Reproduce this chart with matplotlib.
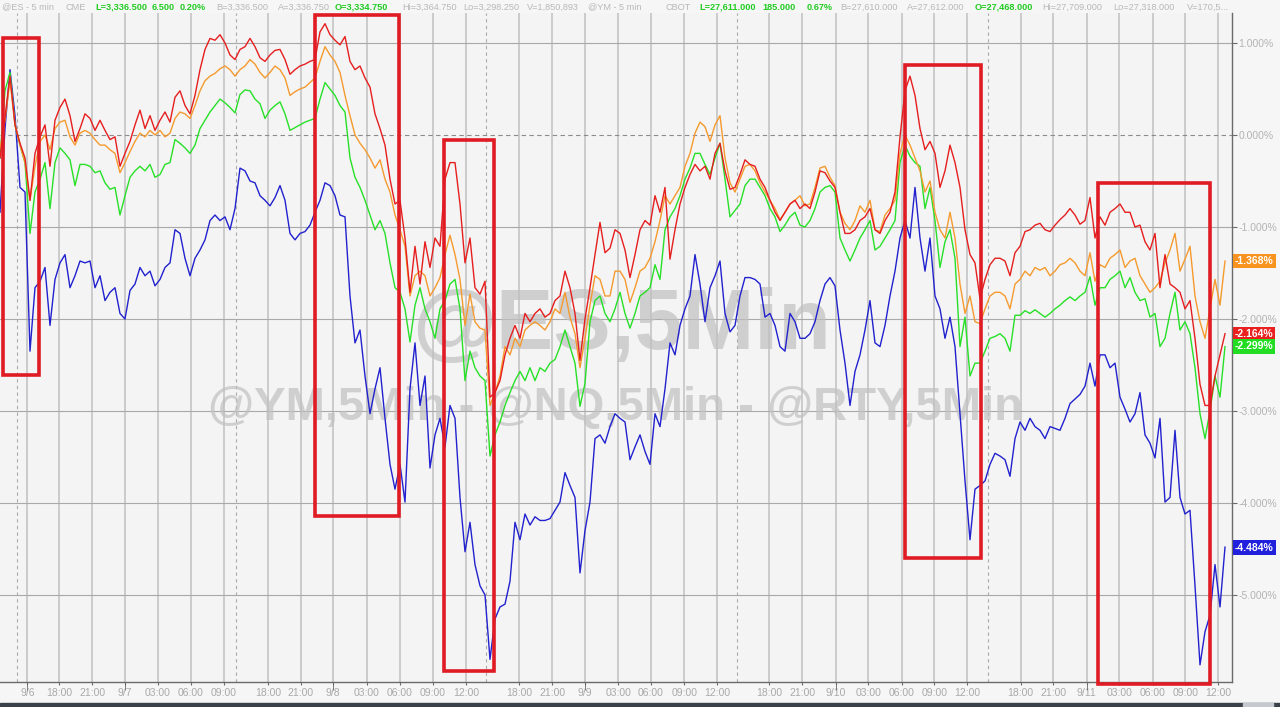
import numpy as np
import matplotlib
matplotlib.use('Agg')
import matplotlib.pyplot as plt
from matplotlib.patches import Rectangle

plt.rcParams['font.family'] = ['Liberation Sans', 'DejaVu Sans']

# % change, one value per 5-min slot (compressed session time)
es = [-0.25, 0.20, 0.64, 0.11, -0.09, -0.25, -0.71, -0.20, -0.02, 0.11,
      -0.34, 0.16, 0.30, 0.39, 0.21, -0.07, 0.07, 0.23, 0.18, 0.05,
      0.16, 0.05, -0.05, -0.02, -0.34, -0.20, -0.07, 0.11, 0.27, 0.07,
      0.21, 0.05, 0.16, 0.25, 0.14, 0.41, 0.48, 0.32, 0.23, 0.43,
      0.71, 0.93, 1.05, 1.03, 1.09, 1.00, 0.87, 0.82, 0.93, 0.96,
      1.05, 0.96, 0.84, 0.80, 0.87, 0.92, 0.93, 0.82, 0.66, 0.71,
      0.75, 0.77, 0.80, 0.82, 1.12, 1.21, 1.09, 1.03, 0.98, 1.07,
      0.80, 0.71, 0.75, 0.62, 0.52, 0.23, 0.07, -0.11, -0.48, -0.75,
      -0.71, -1.12, -1.71, -1.21, -1.62, -1.16, -1.44, -1.12, -1.21, -0.48,
      -0.30, -0.30, -0.75, -1.39, -1.12, -1.66, -1.73, -1.59, -2.85, -2.80,
      -2.67, -2.39, -2.21, -2.07, -2.21, -1.94, -2.03, -1.94, -1.89, -1.98,
      -1.94, -1.80, -1.75, -1.48, -1.66, -1.94, -2.45, -2.00, -1.66, -1.30,
      -0.95, -1.28, -1.23, -1.03, -1.07, -1.25, -1.55, -1.30, -1.03, -0.93,
      -0.98, -0.66, -0.84, -0.57, -1.35, -1.03, -0.75, -0.57, -0.43, -0.32,
      -0.39, -0.34, -0.48, -0.20, -0.09, -0.39, -0.59, -0.57, -0.43, -0.27,
      -0.32, -0.34, -0.48, -0.57, -0.71, -0.84, -0.93, -0.84, -0.75, -0.71,
      -0.80, -0.75, -0.80, -0.62, -0.39, -0.41, -0.50, -0.57, -0.84, -1.07,
      -1.07, -1.03, -0.93, -0.89, -0.80, -1.03, -1.07, -0.93, -0.84, -0.62,
      -0.02, 0.48, 0.64, 0.43, 0.07, -0.16, -0.07, -0.20, -0.57, -0.39,
      -0.11, -0.30, -0.57, -1.03, -1.30, -1.39, -1.78, -1.57, -1.41, -1.34,
      -1.34, -1.37, -1.53, -1.28, -1.21, -1.05, -1.03, -0.98, -0.96, -1.03,
      -1.05, -0.98, -0.92, -0.87, -0.80, -0.87, -0.97, -0.93, -0.68, -1.12,
      -0.89, -0.98, -0.84, -0.80, -0.75, -0.84, -0.84, -1.00, -0.98, -1.16,
      -1.25, -1.07, -1.66, -1.30, -1.62, -1.66, -1.71, -1.89, -1.80, -2.21,
      -2.71, -2.94, -2.94, -2.62, -2.39, -2.16]

ym = [-0.15, 0.16, 0.59, 0.11, -0.11, -0.30, -0.71, -0.34, -0.07, 0.00,
      -0.16, 0.07, 0.14, 0.16, -0.02, -0.11, 0.02, 0.05, 0.02, -0.05,
      -0.11, -0.11, -0.16, -0.20, -0.41, -0.30, -0.18, -0.07, 0.02, -0.02,
      0.05, 0.00, 0.05, -0.02, 0.02, 0.18, 0.25, 0.23, 0.18, 0.32,
      0.48, 0.59, 0.64, 0.67, 0.72, 0.75, 0.71, 0.64, 0.71, 0.75,
      0.82, 0.77, 0.68, 0.62, 0.68, 0.75, 0.71, 0.62, 0.43, 0.47,
      0.50, 0.52, 0.57, 0.62, 0.80, 0.96, 0.87, 0.80, 0.68, 0.43,
      0.21, 0.00, -0.09, -0.16, -0.25, -0.36, -0.27, -0.48, -0.62, -0.87,
      -1.03, -1.21, -1.75, -1.53, -1.48, -1.53, -1.75, -1.66, -1.55, -1.30,
      -1.09, -1.30, -1.57, -2.07, -1.73, -2.03, -2.10, -2.12, -2.94, -2.80,
      -2.62, -2.30, -2.39, -2.21, -2.30, -2.12, -2.07, -2.03, -2.07, -2.12,
      -2.03, -1.89, -1.94, -1.71, -1.98, -2.16, -2.53, -2.21, -1.85, -1.53,
      -1.57, -1.75, -1.75, -1.48, -1.48, -1.57, -1.82, -1.66, -1.48, -1.44,
      -1.34, -1.16, -0.93, -0.66, -0.75, -0.66, -0.57, -0.34, -0.20, 0.02,
      0.14, 0.09, -0.07, 0.11, 0.21, -0.25, -0.52, -0.62, -0.48, -0.34,
      -0.32, -0.39, -0.52, -0.62, -0.71, -0.80, -0.92, -0.84, -0.75, -0.71,
      -0.66, -0.77, -0.75, -0.57, -0.36, -0.34, -0.46, -0.55, -0.84, -0.96,
      -1.03, -0.93, -0.77, -0.84, -0.71, -1.03, -1.05, -0.87, -0.80, -0.71,
      -0.20, 0.00, -0.11, -0.25, -0.39, -0.62, -0.50, -0.84, -1.03, -1.12,
      -0.84, -1.12, -1.62, -1.94, -1.75, -2.03, -2.05, -1.89, -1.75, -1.71,
      -1.71, -1.75, -1.89, -1.62, -1.57, -1.48, -1.53, -1.44, -1.47, -1.44,
      -1.53, -1.48, -1.41, -1.39, -1.34, -1.39, -1.48, -1.53, -1.28, -1.59,
      -1.41, -1.44, -1.34, -1.30, -1.25, -1.44, -1.37, -1.34, -1.53, -1.62,
      -1.71, -1.66, -1.59, -1.39, -1.25, -1.07, -1.48, -1.35, -1.21, -1.75,
      -2.03, -2.21, -1.89, -1.57, -1.85, -1.37]

rty = [-0.25, 0.48, 0.68, 0.11, -0.11, -0.30, -1.07, -0.62, -0.48, -0.30,
       -0.80, -0.30, -0.14, -0.20, -0.27, -0.55, -0.32, -0.32, -0.34, -0.41,
       -0.39, -0.52, -0.59, -0.57, -0.87, -0.66, -0.46, -0.39, -0.34, -0.39,
       -0.32, -0.46, -0.43, -0.32, -0.30, -0.05, -0.09, -0.14, -0.20, -0.11,
       0.07, 0.16, 0.25, 0.32, 0.39, 0.35, 0.30, 0.24, 0.44, 0.49,
       0.48, 0.39, 0.34, 0.18, 0.27, 0.32, 0.36, 0.23, 0.05, 0.08,
       0.11, 0.14, 0.16, 0.18, 0.39, 0.57, 0.50, 0.43, 0.32, 0.25,
       -0.25, -0.46, -0.57, -0.71, -0.87, -1.03, -0.93, -1.07, -1.39, -1.66,
       -1.71, -1.89, -2.25, -1.85, -1.66, -1.89, -2.03, -2.21, -1.89, -1.80,
       -1.62, -1.57, -1.89, -2.67, -2.35, -2.53, -2.62, -2.67, -3.49, -3.26,
       -3.12, -2.94, -2.80, -2.67, -2.57, -2.67, -2.53, -2.67, -2.53, -2.57,
       -2.48, -2.44, -2.30, -2.12, -2.30, -2.48, -2.95, -2.70, -2.03, -1.80,
       -1.75, -1.94, -2.03, -1.89, -1.71, -1.94, -2.10, -1.94, -1.75, -1.71,
       -1.66, -1.41, -1.57, -1.03, -0.89, -0.80, -0.66, -0.48, -0.36, -0.20,
       -0.20, -0.32, -0.43, -0.25, -0.09, -0.48, -0.89, -0.82, -0.75, -0.55,
       -0.48, -0.48, -0.57, -0.66, -0.80, -0.89, -1.05, -0.98, -0.89, -0.84,
       -0.98, -1.00, -0.93, -0.80, -0.62, -0.57, -0.55, -0.62, -1.12, -1.25,
       -1.37, -1.25, -1.12, -1.03, -0.93, -1.25, -1.21, -1.12, -1.03, -0.93,
       -0.30, -0.11, -0.23, -0.30, -0.34, -0.80, -0.57, -0.93, -1.44, -1.16,
       -1.03, -1.34, -2.30, -1.98, -2.62, -2.48, -2.48, -2.35, -2.21, -2.19,
       -2.16, -2.21, -2.35, -1.96, -1.96, -1.91, -1.94, -1.90, -1.94, -1.98,
       -1.94, -1.89, -1.85, -1.80, -1.76, -1.80, -1.75, -1.71, -1.54, -1.85,
       -1.66, -1.66, -1.57, -1.53, -1.48, -1.66, -1.55, -1.71, -1.80, -1.78,
       -1.98, -1.94, -2.30, -2.21, -1.94, -1.71, -2.12, -2.03, -2.16, -2.53,
       -3.03, -3.30, -3.00, -2.62, -2.85, -2.30]

nq = [-0.84, 0.07, 0.71, 0.21, -0.57, -0.62, -2.35, -1.66, -1.59, -1.44,
      -2.07, -1.57, -1.39, -1.30, -1.66, -1.53, -1.37, -1.39, -1.37, -1.66,
      -1.53, -1.80, -1.71, -1.66, -1.94, -2.00, -1.69, -1.62, -1.44, -1.53,
      -1.48, -1.64, -1.57, -1.44, -1.39, -1.03, -1.07, -1.34, -1.53, -1.34,
      -1.25, -1.14, -0.93, -0.87, -0.93, -0.89, -1.03, -0.80, -0.36, -0.39,
      -0.50, -0.52, -0.66, -0.71, -0.77, -0.68, -0.55, -0.71, -1.07, -1.14,
      -1.07, -1.05, -0.98, -0.84, -0.71, -0.52, -0.55, -0.66, -0.87, -0.89,
      -1.75, -2.26, -2.12, -2.62, -3.03, -2.76, -2.53, -3.08, -3.58, -3.85,
      -3.58, -3.99, -2.76, -2.26, -2.94, -2.62, -3.62, -3.26, -3.08, -3.39,
      -2.94, -3.08, -3.94, -4.53, -4.21, -4.67, -4.90, -5.00, -5.70, -5.26,
      -5.13, -5.10, -4.85, -4.21, -4.40, -4.12, -4.24, -4.15, -4.19, -4.19,
      -4.17, -4.08, -3.99, -3.67, -3.81, -3.94, -4.76, -4.30, -3.99, -3.30,
      -3.26, -3.35, -3.17, -3.03, -3.08, -3.12, -3.53, -3.39, -3.26, -3.44,
      -3.58, -3.03, -3.17, -2.76, -2.26, -2.39, -2.07, -1.89, -1.75, -1.30,
      -1.62, -2.03, -1.66, -1.53, -1.37, -1.94, -2.14, -2.07, -1.75, -1.55,
      -1.55, -1.57, -1.62, -1.98, -1.94, -2.07, -2.30, -2.35, -1.94, -2.03,
      -2.21, -2.21, -2.16, -2.03, -1.80, -1.62, -1.55, -1.64, -2.12, -2.48,
      -2.94, -2.57, -2.39, -2.12, -1.80, -2.26, -2.30, -2.07, -1.75, -1.48,
      -1.12, -0.93, -1.12, -0.57, -1.12, -1.48, -1.12, -1.75, -1.89, -2.21,
      -1.98, -2.30, -3.03, -3.76, -4.40, -3.85, -3.81, -3.76, -3.58, -3.46,
      -3.49, -3.53, -3.71, -3.30, -3.12, -3.21, -3.08, -3.17, -3.21, -3.30,
      -3.17, -3.19, -3.21, -3.08, -2.92, -2.87, -2.82, -2.73, -2.48, -2.73,
      -2.39, -2.39, -2.53, -2.48, -2.85, -2.98, -3.12, -3.03, -2.80, -3.26,
      -3.35, -3.51, -3.08, -3.99, -3.94, -3.21, -3.94, -4.12, -4.08, -4.90,
      -5.76, -5.40, -5.22, -4.67, -5.13, -4.48]

last_values = [-1.368, -2.164, -2.299, -4.484]

tick_labels = ['9/6', '18:00', '21:00', '9/7', '03:00', '06:00', '09:00',
               '18:00', '21:00', '9/8', '03:00', '06:00', '09:00', '12:00',
               '18:00', '21:00', '9/9', '03:00', '06:00', '09:00', '12:00',
               '18:00', '21:00', '9/10', '03:00', '06:00', '09:00', '12:00',
               '18:00', '21:00', '9/11', '03:00', '06:00', '09:00', '12:00']
tick_pos = [5.46, 11.86, 18.46, 25.0, 31.54, 38.14, 44.8,
            53.6, 60.14, 66.6, 73.34, 80.0, 86.54, 93.2,
            103.8, 110.46, 117.0, 123.66, 130.2, 136.86, 143.46,
            153.86, 160.46, 167.14, 173.66, 180.34, 186.86, 193.46,
            204.14, 210.66, 217.34, 223.86, 230.54, 237.06, 243.66]
day_pos = [5.46, 25.0, 66.6, 117.0, 167.14, 217.34]
session_pos = [3.5, 47.2, 97.3, 147.5, 197.6]

# highlighted sell-off windows (slot index, %)
box_x0 = [0.6, 63.0, 88.8, 181.0, 219.6]
box_x1 = [7.8, 79.8, 98.8, 196.2, 242.0]
box_y0 = [-2.61, -4.14, -5.83, -4.60, -5.97]
box_y1 = [1.05, 1.30, -0.05, 0.76, -0.52]

header = [("@ES - 5 min", 2, 'g'), ("CME", 65, 'g'), ("L=3,336.500", 95, 'G'),
          ("6.500", 152, 'G'), ("0.20%", 180, 'G'), ("B=3,336.500", 216, 'g'),
          ("A=3,336.750", 278, 'g'), ("O=3,334.750", 335, 'G'),
          ("Hi=3,364.750", 402, 'g'), ("Lo=3,298.250", 463, 'g'),
          ("V=1,850,893", 527, 'g'), ("@YM - 5 min", 588, 'g'), ("CBOT", 666, 'g'),
          ("L=27,611.000", 699, 'G'), ("185.000", 762, 'G'), ("0.67%", 807, 'G'),
          ("B=27,610.000", 840, 'g'), ("A=27,612.000", 907, 'g'),
          ("O=27,468.000", 975, 'G'), ("Hi=27,709.000", 1042, 'g'),
          ("Lo=27,318.000", 1113, 'g'), ("V=170,5...", 1187, 'g')]

W, H = 1280, 707
fig = plt.figure(figsize=(12.8, 7.07), dpi=100, facecolor='#f6f6f6')
ax = fig.add_axes([0, 25 / H, 1232 / W, 669 / H], facecolor='#f4f4f4')

x = np.arange(len(es))
ax.set_xlim(0, 246.4)
ax.set_ylim(-5.946, 1.326)

for p in tick_pos:
    ax.axvline(p, color='#c8c8c8', lw=1.3, zorder=0)
for p in session_pos:
    ax.axvline(p, color='#ababab', lw=0.8, ls=(0, (3, 3)), zorder=0)
for v in [1, -1, -2, -3, -4, -5]:
    ax.axhline(v, color='#a9a9a9', lw=0.8, zorder=0.5)
ax.axhline(0, color='#8c8c8c', lw=0.8, ls=(0, (4, 3)), zorder=0.5)

# watermarks
ax.text(622 / W, 1 - 349 / H, "@ES,5Min", transform=fig.transFigure,
        ha='center', va='baseline', fontsize=62, fontweight='bold',
        color='#c0c0c0', alpha=0.7, zorder=1)
ax.text(615 / W, 1 - 420 / H, "@YM,5Min - @NQ,5Min - @RTY,5Min",
        transform=fig.transFigure, ha='center', va='baseline', fontsize=34,
        fontweight='bold', color='#c0c0c0', alpha=0.7, zorder=1)

ax.plot(x, nq, color='#2121cf', lw=1.0, zorder=3)
ax.plot(x, rty, color='#27e027', lw=1.0, zorder=3)
ax.plot(x, ym, color='#f59a2e', lw=1.0, zorder=3)
ax.plot(x, es, color='#e61e1e', lw=1.0, zorder=3)

for x0, x1, y0, y1 in zip(box_x0, box_x1, box_y0, box_y1):
    ax.add_patch(Rectangle((x0, y0), x1 - x0, y1 - y0, fill=False,
                           ec='#e01b24', lw=2.6, zorder=5, clip_on=False))

# axes styling
for s in ['left', 'top']:
    ax.spines[s].set_visible(False)
for s in ['right', 'bottom']:
    ax.spines[s].set_color('#6a6a6a')
    ax.spines[s].set_linewidth(1.0)

ax.yaxis.tick_right()
yt = [1, 0, -1, -2, -3, -4, -5]
ax.set_yticks(yt)
ax.set_yticklabels([f'{v:.3f}%' for v in yt])
ax.tick_params(axis='y', length=3.5, color='#6a6a6a', labelcolor='#b3b3b3',
               labelsize=7.5, pad=1)

ax.set_xticks(tick_pos)
ax.set_xticklabels(tick_labels)
ax.set_xticks(day_pos, minor=True)
ax.xaxis.remove_overlapping_locs = False
ax.tick_params(axis='x', which='major', length=2.5, color='#6a6a6a',
               labelcolor='#a9a9a9', labelsize=7.5, pad=2)
ax.tick_params(axis='x', which='minor', length=6, color='#6a6a6a')

# last value tags
tag_colors = ['#f7931e', '#e8201f', '#22dd22', '#2020dd']
for val, col in zip(last_values, tag_colors):
    ax.annotate(f'{val:.3f}%', xy=(1, val), xycoords=('axes fraction', 'data'),
                xytext=(2, 0), textcoords='offset points', ha='left',
                va='center', fontsize=7.5, fontweight='bold', color='white',
                bbox=dict(boxstyle='square,pad=0.2', fc=col, ec='none'),
                annotation_clip=False, zorder=6)

# header quote line
for txt, px, kind in header:
    if kind == 'G':
        fig.text(px / W, 1 - 7 / H, txt, fontsize=6.6, color='#22cc22',
                 fontweight='bold', va='center', ha='left')
    else:
        fig.text(px / W, 1 - 7 / H, txt, fontsize=6.6, color='#b8b8b8',
                 va='center', ha='left')

# scrollbar strip at the bottom
fig.patches.append(Rectangle((0, 0), 1, 4 / H, transform=fig.transFigure,
                             color='#3b4149', zorder=0))
fig.patches.append(Rectangle((1243 / W, 0), 30 / W, 4 / H,
                             transform=fig.transFigure, color='#c5c9ce', zorder=1))

fig.savefig('out.png', dpi=100, facecolor=fig.get_facecolor())
